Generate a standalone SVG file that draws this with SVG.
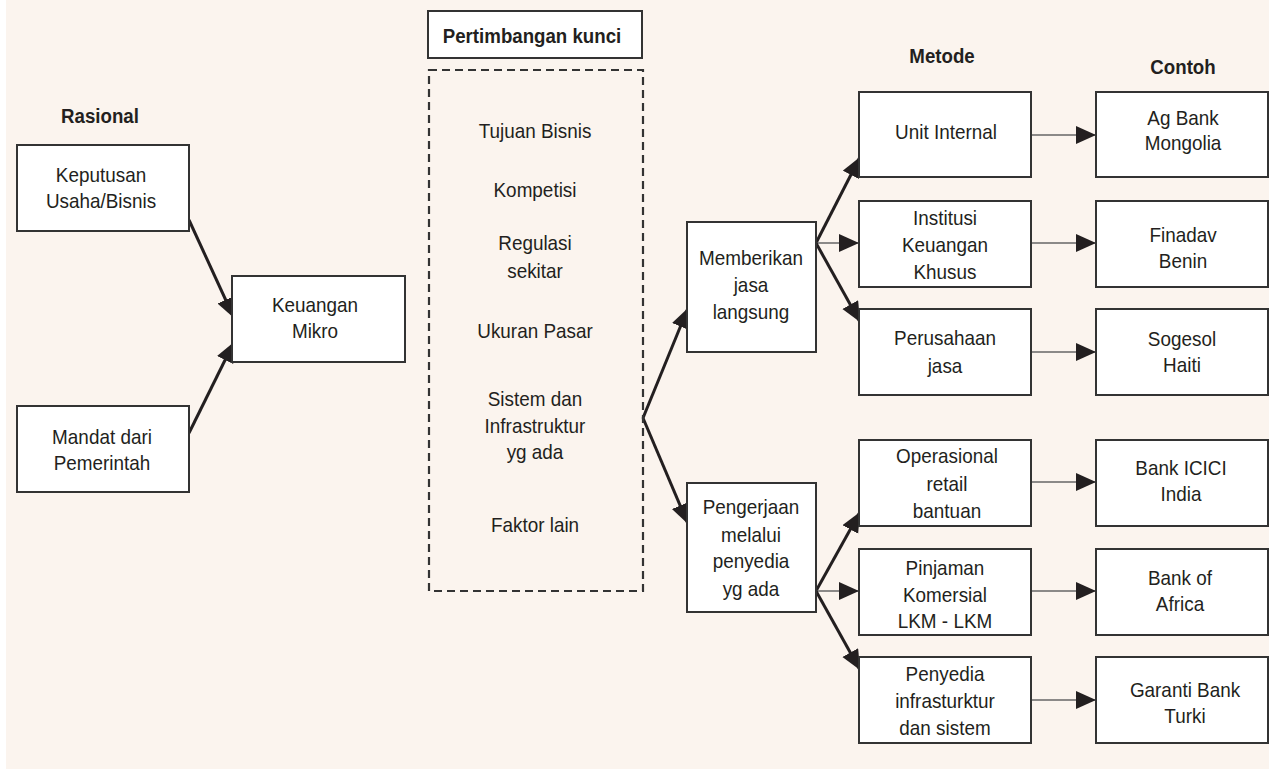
<svg xmlns="http://www.w3.org/2000/svg" width="1269" height="770" viewBox="0 0 1269 770">
<defs>
<style>
.bg{fill:#FBF4EE}
.box{fill:#fff;stroke:#333;stroke-width:2}
.dash{fill:none;stroke:#333;stroke-width:2.2;stroke-dasharray:8 5}
.t{font-family:"Liberation Sans",Arial,sans-serif;font-size:21px;fill:#231f20;text-anchor:middle}
.h{font-family:"Liberation Sans",Arial,sans-serif;font-size:21px;font-weight:bold;fill:#231f20;text-anchor:middle}
.thick{stroke:#231f20;stroke-width:3;fill:none}
.thin{stroke:#666;stroke-width:1.6;fill:none}
</style>
<marker id="ah" markerUnits="userSpaceOnUse" markerWidth="21" markerHeight="19" refX="20" refY="9" orient="auto" viewBox="0 0 21 19">
<path d="M0,0 L20,9 L0,18 z" fill="#231f20"/>
</marker>
</defs>
<rect class="bg" x="6" y="0" width="1263" height="769"/>

<g transform="translate(100 0) scale(0.89 1)"><text class="h" x="0" y="123">Rasional</text></g>
<g transform="translate(942 0) scale(0.89 1)"><text class="h" x="0" y="63">Metode</text></g>
<g transform="translate(1183 0) scale(0.89 1)"><text class="h" x="0" y="74">Contoh</text></g>

<g id="connectors">
<line class="thick" x1="189" y1="220" x2="234" y2="318" marker-end="url(#ah)"/>
<line class="thick" x1="189" y1="433" x2="234" y2="342" marker-end="url(#ah)"/>
<line class="thick" x1="643" y1="418" x2="688" y2="308" marker-end="url(#ah)"/>
<line class="thick" x1="643" y1="418" x2="688" y2="524" marker-end="url(#ah)"/>
<line class="thick" x1="816" y1="243" x2="860" y2="157" marker-end="url(#ah)"/>
<line class="thin" x1="816" y1="243" x2="859" y2="243" marker-end="url(#ah)"/>
<line class="thick" x1="816" y1="243" x2="860" y2="322" marker-end="url(#ah)"/>
<line class="thick" x1="816" y1="591" x2="860" y2="512" marker-end="url(#ah)"/>
<line class="thin" x1="816" y1="591" x2="859" y2="591" marker-end="url(#ah)"/>
<line class="thick" x1="816" y1="591" x2="860" y2="670" marker-end="url(#ah)"/>
<line class="thin" x1="1031" y1="135" x2="1096" y2="135" marker-end="url(#ah)"/>
<line class="thin" x1="1031" y1="243" x2="1096" y2="243" marker-end="url(#ah)"/>
<line class="thin" x1="1031" y1="352" x2="1096" y2="352" marker-end="url(#ah)"/>
<line class="thin" x1="1031" y1="482" x2="1096" y2="482" marker-end="url(#ah)"/>
<line class="thin" x1="1031" y1="591" x2="1096" y2="591" marker-end="url(#ah)"/>
<line class="thin" x1="1031" y1="700" x2="1096" y2="700" marker-end="url(#ah)"/>
</g>

<g id="keputusan"><rect class="box" x="17" y="145" width="172" height="86"/>
<g transform="translate(101 0) scale(0.9 1)"><text class="t" x="0" y="182">Keputusan</text><text class="t" x="0" y="208">Usaha/Bisnis</text></g></g>

<g id="mandat"><rect class="box" x="17" y="406" width="172" height="86"/>
<g transform="translate(102 0) scale(0.9 1)"><text class="t" x="0" y="444">Mandat dari</text><text class="t" x="0" y="470">Pemerintah</text></g></g>

<g id="keuangan"><rect class="box" x="232" y="276" width="173" height="86"/>
<g transform="translate(315 0) scale(0.9 1)"><text class="t" x="0" y="312">Keuangan</text><text class="t" x="0" y="338">Mikro</text></g></g>

<g id="pertimbangan"><rect class="box" x="428" y="11" width="214" height="47"/>
<g transform="translate(532 0) scale(0.89 1)"><text class="h" x="0" y="43">Pertimbangan kunci</text></g></g>

<g id="faktor">
<rect class="dash" x="429" y="70" width="214" height="521"/>
<g transform="translate(535 0) scale(0.9 1)">
<text class="t" x="0" y="138">Tujuan Bisnis</text>
<text class="t" x="0" y="197">Kompetisi</text>
<text class="t" x="0" y="250">Regulasi</text>
<text class="t" x="0" y="278">sekitar</text>
<text class="t" x="0" y="338">Ukuran Pasar</text>
<text class="t" x="0" y="406">Sistem dan</text>
<text class="t" x="0" y="433">Infrastruktur</text>
<text class="t" x="0" y="459">yg ada</text>
<text class="t" x="0" y="532">Faktor lain</text>
</g></g>

<g id="memberikan"><rect class="box" x="687" y="222" width="129" height="130"/>
<g transform="translate(751 0) scale(0.9 1)"><text class="t" x="0" y="265">Memberikan</text><text class="t" x="0" y="292">jasa</text><text class="t" x="0" y="319">langsung</text></g></g>

<g id="pengerjaan"><rect class="box" x="687" y="483" width="129" height="129"/>
<g transform="translate(751 0) scale(0.9 1)"><text class="t" x="0" y="514">Pengerjaan</text><text class="t" x="0" y="542">melalui</text><text class="t" x="0" y="568">penyedia</text><text class="t" x="0" y="596">yg ada</text></g></g>

<g id="unit-internal"><rect class="box" x="859" y="92" width="172" height="85"/>
<g transform="translate(946 0) scale(0.9 1)"><text class="t" x="0" y="139">Unit Internal</text></g></g>

<g id="institusi"><rect class="box" x="859" y="201" width="172" height="86"/>
<g transform="translate(945 0) scale(0.9 1)"><text class="t" x="0" y="225">Institusi</text><text class="t" x="0" y="252">Keuangan</text><text class="t" x="0" y="279">Khusus</text></g></g>

<g id="perusahaan"><rect class="box" x="859" y="309" width="172" height="86"/>
<g transform="translate(945 0) scale(0.9 1)"><text class="t" x="0" y="345">Perusahaan</text><text class="t" x="0" y="373">jasa</text></g></g>

<g id="operasional"><rect class="box" x="859" y="440" width="172" height="86"/>
<g transform="translate(947 0) scale(0.9 1)"><text class="t" x="0" y="463">Operasional</text><text class="t" x="0" y="491">retail</text><text class="t" x="0" y="518">bantuan</text></g></g>

<g id="pinjaman"><rect class="box" x="859" y="549" width="172" height="86"/>
<g transform="translate(945 0) scale(0.9 1)"><text class="t" x="0" y="575">Pinjaman</text><text class="t" x="0" y="602">Komersial</text><text class="t" x="0" y="628">LKM - LKM</text></g></g>

<g id="penyedia"><rect class="box" x="859" y="657" width="172" height="86"/>
<g transform="translate(945 0) scale(0.9 1)"><text class="t" x="0" y="681">Penyedia</text><text class="t" x="0" y="708">infrasturktur</text><text class="t" x="0" y="735">dan sistem</text></g></g>

<g id="agbank"><rect class="box" x="1096" y="92" width="172" height="85"/>
<g transform="translate(1183 0) scale(0.9 1)"><text class="t" x="0" y="125">Ag Bank</text><text class="t" x="0" y="150">Mongolia</text></g></g>

<g id="finadav"><rect class="box" x="1096" y="201" width="172" height="86"/>
<g transform="translate(1183 0) scale(0.9 1)"><text class="t" x="0" y="242">Finadav</text><text class="t" x="0" y="268">Benin</text></g></g>

<g id="sogesol"><rect class="box" x="1096" y="309" width="172" height="86"/>
<g transform="translate(1182 0) scale(0.9 1)"><text class="t" x="0" y="346">Sogesol</text><text class="t" x="0" y="372">Haiti</text></g></g>

<g id="icici"><rect class="box" x="1096" y="440" width="172" height="86"/>
<g transform="translate(1181 0) scale(0.9 1)"><text class="t" x="0" y="475">Bank ICICI</text><text class="t" x="0" y="501">India</text></g></g>

<g id="africa"><rect class="box" x="1096" y="549" width="172" height="86"/>
<g transform="translate(1180 0) scale(0.9 1)"><text class="t" x="0" y="585">Bank of</text><text class="t" x="0" y="611">Africa</text></g></g>

<g id="garanti"><rect class="box" x="1096" y="657" width="172" height="86"/>
<g transform="translate(1185 0) scale(0.9 1)"><text class="t" x="0" y="697">Garanti Bank</text><text class="t" x="0" y="723">Turki</text></g></g>
</svg>
